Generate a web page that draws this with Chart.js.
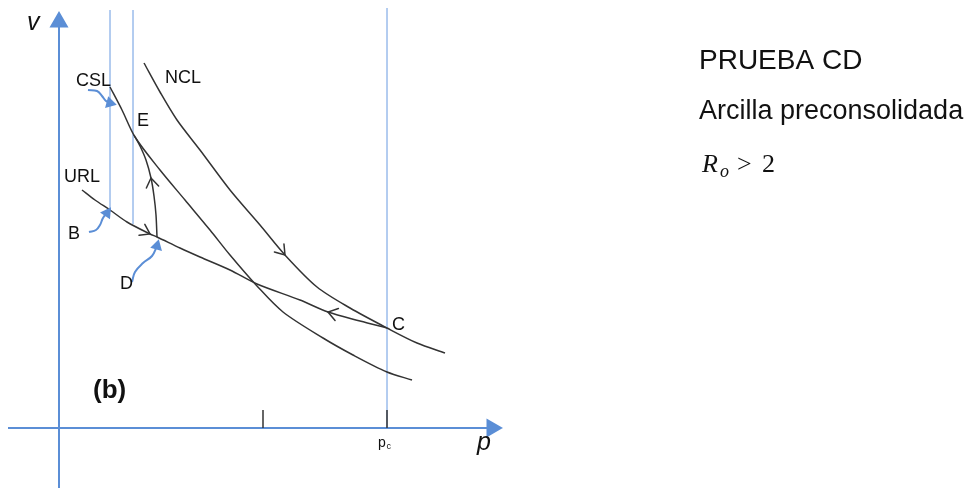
<!DOCTYPE html>
<html>
<head>
<meta charset="utf-8">
<script src="https://cdn.jsdelivr.net/npm/chart.js@4/dist/chart.umd.min.js"></script>
<style>
  html,body{margin:0;padding:0;background:#fff;overflow:hidden}
  canvas{display:block}
</style>
</head>
<body>
<canvas id="chCD" width="970" height="488"></canvas>
<script>
/* ---- datos (p, v) con origen en el cruce de los ejes ---- */
const lineaNCL   = [[85,365],[101,336],[118,308],[141,278],[171,238],[201,203],[226,173],[258,141],[291,120],[328,100],[358,85],[386,75]];
const lineaCSL   = [[51,341],[63,318],[76,291],[101,258],[126,228],[151,198],[171,173],[198,142],[224,116],[264,90],[294,73],[328,56],[353,48]];
const lineaURL   = [[23,238],[36,228],[51,218],[68,206],[91,194],[98,191],[121,180],[141,171],[171,158],[198,144],[241,128],[269,116],[301,107],[328,100]];
const trayectoDE = [[98,191],[97,213],[95,232],[92,250],[87,268],[81,282],[75,293]];
const guiaB  = [[51,418],[51,216]];
const guiaE  = [[74,418],[74,204]];
const guiaPc = [[328,420],[328,0]];
const ejeV   = [[0,-60],[0,406]];
const ejeP   = [[-51,0],[433,0]];
const marcasP = [204, 328];
const flechaCSL = [[29,338],[38,337],[43,332],[47,327],[51,325]];
const flechaB   = [[30,196],[37,198],[41,203],[44,210],[48,215]];
const flechaD   = [[73,146],[76,156],[84,165],[93,172],[98,182]];

const negro = '#333333', azul = '#5b8ed6', azulClaro = '#a9c5ee';
const fuente = "'Liberation Sans', Arial, sans-serif";
const pts = a => a.map(([x,y]) => ({x, y}));

function linea(data, color, ancho, extra){
  return Object.assign({data: pts(data), showLine:true, borderColor:color, backgroundColor:color,
    pointBorderColor:color, pointBackgroundColor:color, borderWidth:ancho, pointRadius:0, tension:0.3}, extra || {});
}
// línea con punta de flecha (triángulo) en el último punto
function conPunta(data, color, ancho, radio, giro){
  const n = data.length;
  return linea(data, color, ancho, {pointRadius: data.map((_,i) => i === n-1 ? radio : 0),
    pointStyle:'triangle', pointRotation:giro, tension:0.4});
}

/* ---- flechas abiertas sobre las curvas ---- */
const flechas = [
  {l: lineaNCL, i: 6, dir: 1},
  {l: lineaURL, i: 4, dir: 1},
  {l: lineaURL, i: 11, dir: -1},
  {l: trayectoDE, i: 3, dir: 1}
];

const textos = {
  id: 'textos',
  afterDatasetsDraw(chart){
    const {ctx, scales:{x, y}} = chart;
    const px = p => x.getPixelForValue(p), py = v => y.getPixelForValue(v);
    ctx.save();
    // chevrons
    ctx.strokeStyle = negro; ctx.lineWidth = 1.5; ctx.lineCap = 'round';
    flechas.forEach(f => {
      const t = f.l[f.i], a = f.l[f.i - f.dir];
      const tx = px(t[0]), ty = py(t[1]);
      const ang = Math.atan2(ty - py(a[1]), tx - px(a[0]));
      ctx.beginPath();
      ctx.moveTo(tx + 11*Math.cos(ang + Math.PI - 0.6), ty + 11*Math.sin(ang + Math.PI - 0.6));
      ctx.lineTo(tx, ty);
      ctx.lineTo(tx + 11*Math.cos(ang + Math.PI + 0.6), ty + 11*Math.sin(ang + Math.PI + 0.6));
      ctx.stroke();
    });
    // etiquetas de curvas y puntos
    ctx.fillStyle = '#111'; ctx.textAlign = 'left'; ctx.textBaseline = 'alphabetic';
    ctx.font = '18px ' + fuente;
    [['CSL',17,342],['NCL',106,345],['E',78,302],['URL',5,246],['B',9,189],['D',61,139],['C',333,98]]
      .forEach(([s,p,v]) => ctx.fillText(s, px(p), py(v)));
    ctx.font = 'bold 26px ' + fuente;
    ctx.fillText('(b)', px(34), py(30));
    // ejes
    ctx.font = 'italic 25px ' + fuente;
    ctx.fillText('v', 27, 30);
    ctx.fillText('p', px(418), py(-22));
    ctx.font = '14px ' + fuente;
    ctx.fillText('p', px(319), py(-19));
    ctx.font = '9px ' + fuente;
    ctx.fillText('c', px(327.5), py(-21));
    // texto a la derecha
    ctx.font = '28px ' + fuente;
    ctx.fillText('PRUEBA CD', 699, 69);
    ctx.font = '27px ' + fuente;
    ctx.fillText('Arcilla preconsolidada', 699, 119);
    ctx.font = "italic 26px 'Liberation Serif', serif";
    ctx.fillText('R', 702, 172);
    ctx.font = "italic 18px 'Liberation Serif', serif";
    ctx.fillText('o', 720, 177);
    ctx.font = "26px 'Liberation Serif', serif";
    ctx.fillText('>', 737, 172);
    ctx.fillText('2', 762, 172);
    ctx.restore();
  }
};

// Chart.js pinta el índice 0 encima: curvas y marcas primero, guías al final
const datasets = [
  conPunta(flechaCSL, azul, 2, 5, 105),
  conPunta(flechaB, azul, 2, 5, 35),
  conPunta(flechaD, azul, 2, 5, 15),
  linea(lineaNCL, negro, 1.5),
  linea(lineaCSL, negro, 1.5),
  linea(lineaURL, negro, 1.5),
  linea(trayectoDE, negro, 1.5),
  ...marcasP.map(m => linea([[m,0],[m,18]], negro, 1.5, {tension:0})),
  conPunta(ejeV, azul, 2, 9, 0),
  conPunta(ejeP, azul, 2, 9, 90),
  linea(guiaB, azulClaro, 1, {tension:0}),
  linea(guiaE, azulClaro, 1, {tension:0}),
  linea(guiaPc, azulClaro, 1, {tension:0})
];

new Chart(document.getElementById('chCD'), {
  type: 'scatter',
  data: {datasets},
  options: {
    responsive: false, animation: false, devicePixelRatio: 1, events: [],
    layout: {padding: 0, autoPadding: false},
    plugins: {legend: {display:false}, tooltip: {enabled:false}},
    scales: {
      x: {type:'linear', min:-59, max:911, display:false},
      y: {type:'linear', min:-60, max:428, display:false}
    }
  },
  plugins: [textos]
});
</script>
</body>
</html>
